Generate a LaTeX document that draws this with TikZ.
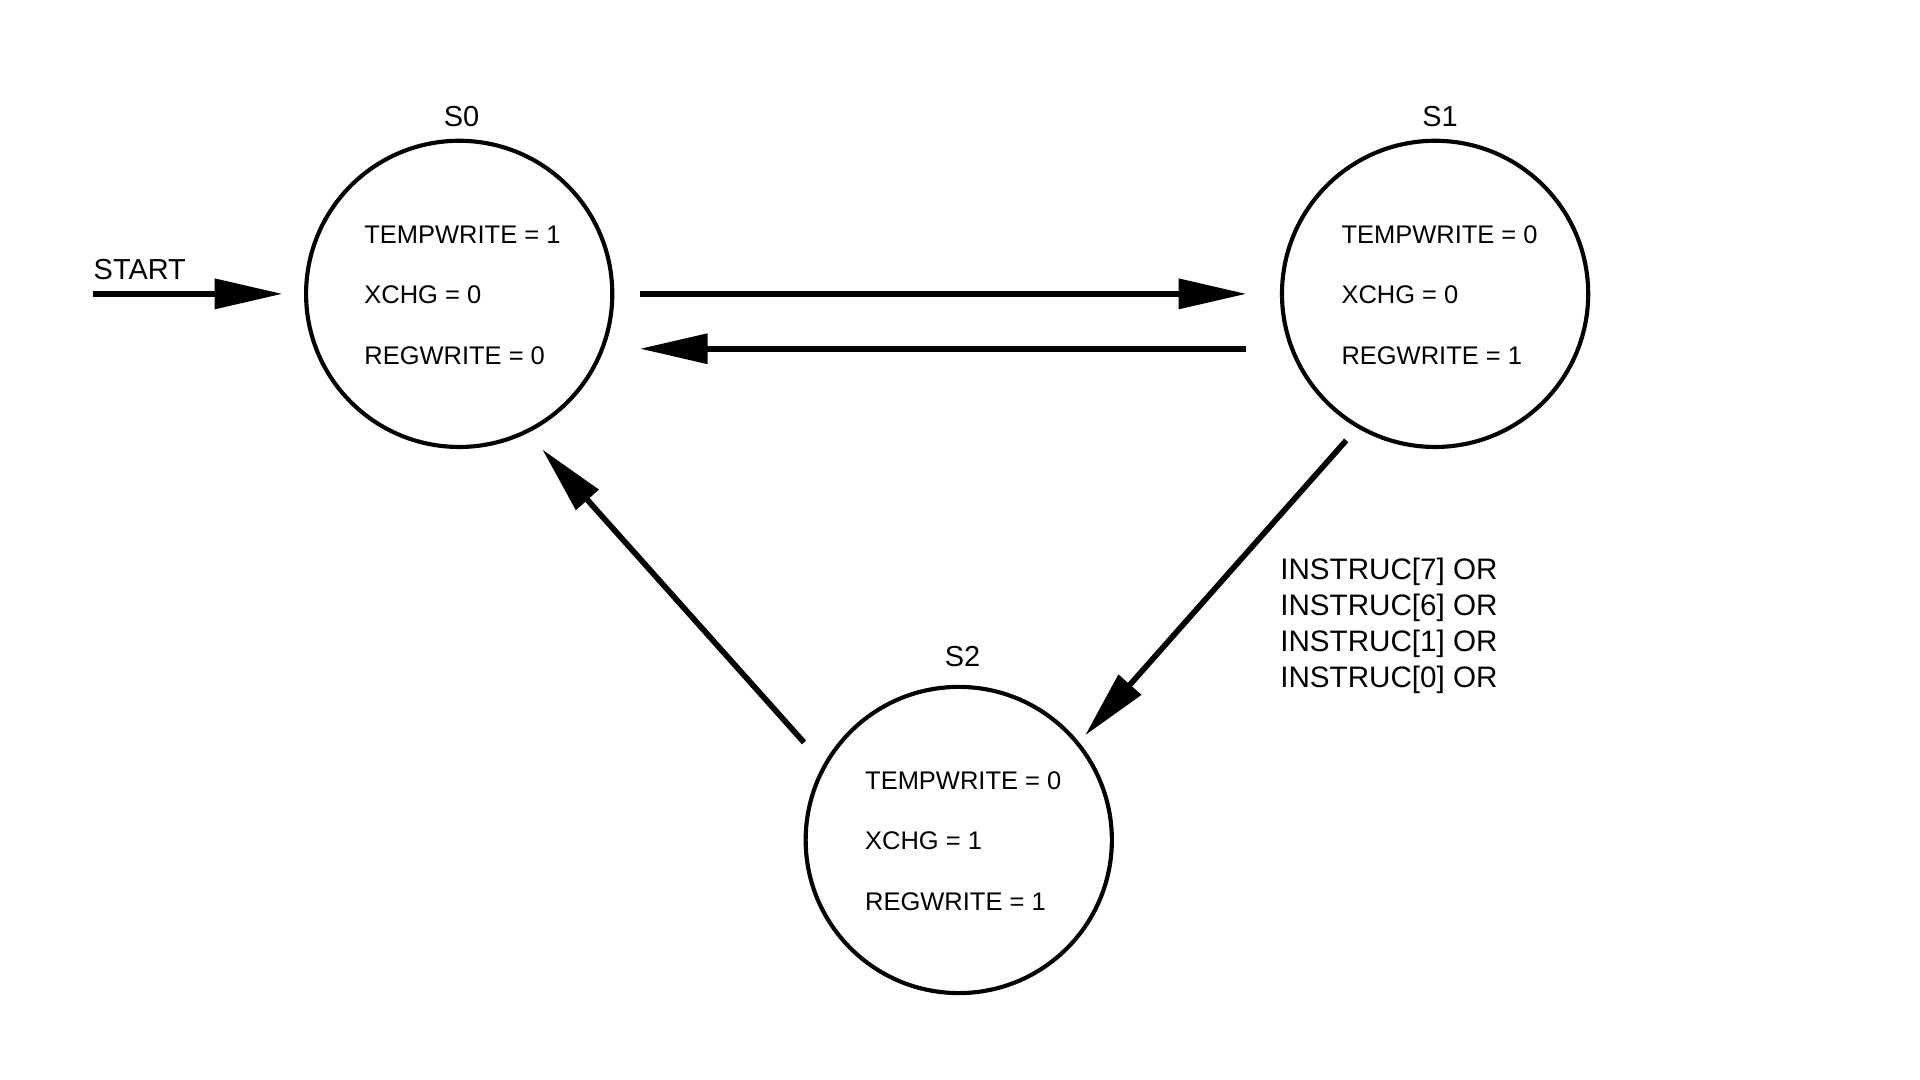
\documentclass[tikz,border=0pt]{standalone}
\usepackage{fontspec}
\setmainfont{Liberation Sans}
\usetikzlibrary{arrows.meta,calc}
\begin{document}
\begin{tikzpicture}[x=0.0125cm,y=-0.0125cm,
  state/.style={circle,draw,line width=1.2pt,minimum size=3.125cm,inner sep=0pt,outer sep=0pt},
  vars/.style={anchor=west,align=left,font=\fontsize{7.4}{17.6}\selectfont,inner sep=0pt},
  statename/.style={font=\fontsize{8.4}{10}\selectfont,inner sep=0pt},
  cond/.style={anchor=west,align=left,font=\fontsize{8.6}{10.4}\selectfont,inner sep=0pt},
  trans/.style={line width=1.65pt,-{Triangle[length=19.7pt,width=8.5pt]}}]
\useasboundingbox (0,0) rectangle (1568,882);

% states
\node[state] (s0) at (375,240) {};
\node[state] (s1) at (1172,240) {};
\node[state] (s2) at (783,686) {};

% state names
\node[statename] (s0name) at (377,95) {S0};
\node[statename] (s1name) at (1176,95) {S1};
\node[statename] (s2name) at (786,536) {S2};

% outputs of each state
\node[vars] (s0vars) at ($(s0.center)+(-78,1)$) {TEMPWRITE = 1\\XCHG = 0\\REGWRITE = 0};
\node[vars] (s1vars) at ($(s1.center)+(-77,1)$) {TEMPWRITE = 0\\XCHG = 0\\REGWRITE = 1};
\node[vars] (s2vars) at ($(s2.center)+(-77,1)$) {TEMPWRITE = 0\\XCHG = 1\\REGWRITE = 1};

% reset entry
\coordinate (startpt) at (76,240);
\node[statename,anchor=base west] (startlab) at (76,228) {START};
\draw[trans,shorten >=0.24cm] (startpt) -- (s0.west);

% transitions
\draw[trans,shorten <=0.2875cm,shorten >=0.3625cm] (s0.east) -- (s1.west);
\draw[trans,shorten <=0.47cm,shorten >=0.385cm] (s1.201.8) -- (s0.-21.8);
\draw[trans,shorten <=0.19cm,shorten >=0.112cm] (s1.240.26) -- (s2.39.58);
\draw[trans,shorten <=0.319cm,shorten >=0.244cm] (s2.151.6) -- (s0.-64.6);

% transition condition
\node[cond] (s1s2cond) at (1045,511) {INSTRUC[7] OR\\INSTRUC[6] OR\\INSTRUC[1] OR\\INSTRUC[0] OR};
\end{tikzpicture}
\end{document}
